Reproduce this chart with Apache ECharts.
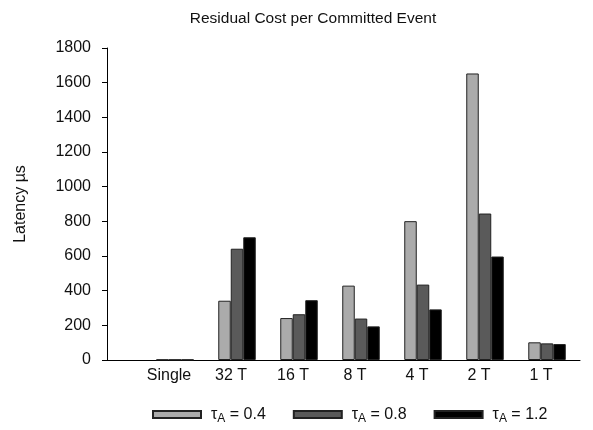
<!DOCTYPE html>
<html>
<head>
<meta charset="utf-8">
<script src="https://cdn.jsdelivr.net/npm/echarts@6/dist/echarts.min.js"></script>
<style>
  html, body { margin: 0; padding: 0; background: #fff; }
  #chart { width: 593px; height: 430px; }
</style>
</head>
<body>
<div id="chart"></div>
<script>
// Thread configurations along the x axis
const categories = ['Single', '32 T', '16 T', '8 T', '4 T', '2 T', '1 T'];
// Residual latency (µs) per committed event for each τA setting
const tauLabels = ['0.4', '0.8', '1.2'];
const tau04 = [2, 342, 242, 429, 801, 1653, 102];
const tau08 = [2, 642, 264, 239, 435, 845, 96];
const tau12 = [2, 708, 345, 194, 292, 597, 92];
// Y axis range
const yMin = 0, yMax = 1800, yStep = 200;

const FONT = "'Liberation Sans', Arial, Helvetica, sans-serif";
const fills = ['#ababab', '#5a5a5a', '#000000'];
const seriesValues = [tau04, tau08, tau12];
const names = tauLabels.map(t => 'τA = ' + t);

const chart = echarts.init(document.getElementById('chart'), null, { renderer: 'canvas' });

const positions = categories.map((c, i) => i);

chart.setOption({
  animation: false,
  backgroundColor: '#ffffff',
  title: {
    text: 'Residual Cost per Committed Event',
    left: 308,
    top: 6,
    textAlign: 'center',
    textStyle: { fontFamily: FONT, fontSize: 15.5, fontWeight: 'normal', color: '#111' }
  },
  grid: { left: 107, right: 13, top: 48, bottom: 70, containLabel: false },
  xAxis: {
    type: 'value',
    min: -1.097,
    max: 6.532,
    splitLine: { show: false },
    axisLine: { show: true, onZero: false, lineStyle: { color: '#000', width: 1 } },
    axisTick: { show: false },
    axisLabel: {
      customValues: positions,
      formatter: v => categories[Math.round(v)],
      fontFamily: FONT,
      fontSize: 16,
      color: '#111',
      margin: 8,
      padding: [0, 12, 0, 0]
    }
  },
  yAxis: {
    type: 'value',
    min: yMin,
    max: yMax,
    interval: yStep,
    name: 'Latency µs',
    nameLocation: 'middle',
    nameGap: 78,
    nameTextStyle: { fontFamily: FONT, fontSize: 16, color: '#111' },
    splitLine: { show: false },
    axisLine: { show: true, onZero: false, lineStyle: { color: '#000', width: 1 } },
    axisTick: { show: true, inside: false, length: 5, lineStyle: { color: '#000' } },
    axisLabel: { fontFamily: FONT, fontSize: 16, color: '#111', margin: 16, formatter: v => String(v) }
  },
  legend: {
    bottom: 5,
    left: 152,
    padding: 0,
    itemWidth: 48,
    itemHeight: 7,
    itemGap: 27,
    icon: 'rect',
    data: names,
    formatter: name => '{t|τ}{s|A}{t|' + name.slice(2) + '}',
    textStyle: {
      fontFamily: FONT,
      color: '#111',
      padding: [0, 0, 0, 5],
      rich: {
        t: { fontFamily: FONT, fontSize: 16, color: '#111' },
        s: { fontFamily: FONT, fontSize: 12, color: '#111', padding: [9, 0, 0, 0] }
      }
    }
  },
  series: names.map((n, k) => ({
    name: n,
    type: 'bar',
    barWidth: 12.5,
    barGap: '0%',
    data: seriesValues[k].map((v, i) => [i, v]),
    itemStyle: { color: fills[k], borderColor: '#222', borderWidth: 1 }
  }))
});
</script>
</body>
</html>
